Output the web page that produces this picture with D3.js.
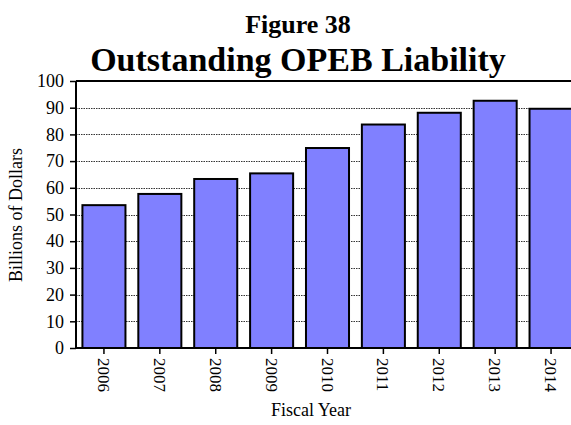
<!DOCTYPE html>
<html>
<head>
<meta charset="utf-8">
<script src="https://cdn.jsdelivr.net/npm/d3@7"></script>
<style>
  body { margin: 0; background: #fff; }
  text { font-family: "Liberation Serif", "Times New Roman", serif; fill: #000; }
</style>
</head>
<body>
<svg></svg>
<script>
var years = ["2006", "2007", "2008", "2009", "2010", "2011", "2012", "2013", "2014"];
var liability = [53.5, 57.7, 63.3, 65.4, 74.9, 83.7, 88.1, 92.6, 89.6];
var yTicks = [0, 10, 20, 30, 40, 50, 60, 70, 80, 90, 100];

var svgWidth = 571, svgHeight = 425;
var plotLeft = 76, plotRight = 579, plotTop = 81, plotBottom = 348;

var svg = d3.select("svg")
  .attr("width", svgWidth)
  .attr("height", svgHeight);

var xScale = d3.scaleBand()
  .domain(years)
  .range([plotLeft, plotRight])
  .paddingInner(0.23)
  .paddingOuter(0.115);

var yScale = d3.scaleLinear()
  .domain([0, 100])
  .range([plotBottom, plotTop]);

// dotted gridlines
svg.selectAll("line.grid")
  .data(yTicks.filter(function(d) { return d > 0 && d < 100; }))
  .enter()
  .append("line")
  .attr("class", "grid")
  .attr("x1", plotLeft)
  .attr("x2", svgWidth)
  .attr("y1", function(d) { return Math.round(yScale(d)) + 0.5; })
  .attr("y2", function(d) { return Math.round(yScale(d)) + 0.5; })
  .attr("stroke", "#333")
  .attr("stroke-width", 1)
  .attr("stroke-dasharray", "1.5,1");

// top border
svg.append("line")
  .attr("x1", plotLeft)
  .attr("x2", svgWidth)
  .attr("y1", yScale(100))
  .attr("y2", yScale(100))
  .attr("stroke", "#000")
  .attr("stroke-width", 2);

svg.selectAll("rect.bar")
  .data(liability)
  .enter()
  .append("rect")
  .attr("class", "bar")
  .attr("x", function(d, i) { return xScale(years[i]); })
  .attr("y", function(d) { return yScale(d); })
  .attr("width", xScale.bandwidth())
  .attr("height", function(d) { return plotBottom - yScale(d); })
  .attr("fill", "#8080ff")
  .attr("stroke", "#000")
  .attr("stroke-width", 2);

// y axis
var yAxis = svg.append("g")
  .attr("transform", "translate(" + plotLeft + ",0)")
  .call(d3.axisLeft(yScale).tickValues(yTicks).tickSize(6).tickPadding(6));
yAxis.select(".domain").attr("stroke-width", 2).attr("d", "M0," + plotTop + "V" + plotBottom);
yAxis.selectAll(".tick line").attr("stroke-width", 1.5);
yAxis.selectAll("text")
  .style("font-size", "18px")
  .style("font-family", "Liberation Serif, serif");

// x axis
var xAxis = svg.append("g")
  .attr("transform", "translate(0," + plotBottom + ")")
  .call(d3.axisBottom(xScale).tickSize(6).tickPadding(0));
xAxis.select(".domain").attr("stroke-width", 2).attr("d", "M" + plotLeft + ",0H" + svgWidth);
xAxis.selectAll(".tick line").attr("stroke-width", 1.5);
xAxis.selectAll("text")
  .style("font-size", "17px")
  .style("font-family", "Liberation Serif, serif")
  .attr("text-anchor", "start")
  .attr("dy", "0.35em")
  .attr("transform", "translate(0,10) rotate(90)")
  .attr("y", 0)
  .attr("x", 0);

// titles
svg.append("text")
  .attr("x", 298)
  .attr("y", 33)
  .attr("text-anchor", "middle")
  .style("font-weight", "bold")
  .style("font-size", "26px")
  .text("Figure 38");

svg.append("text")
  .attr("x", 298)
  .attr("y", 71)
  .attr("text-anchor", "middle")
  .style("font-weight", "bold")
  .style("font-size", "34px")
  .text("Outstanding OPEB Liability");

svg.append("text")
  .attr("x", 311)
  .attr("y", 416)
  .attr("text-anchor", "middle")
  .style("font-size", "18px")
  .text("Fiscal Year");

svg.append("text")
  .attr("transform", "translate(22,215) rotate(-90)")
  .attr("text-anchor", "middle")
  .style("font-size", "18px")
  .text("Billions of Dollars");
</script>
</body>
</html>
